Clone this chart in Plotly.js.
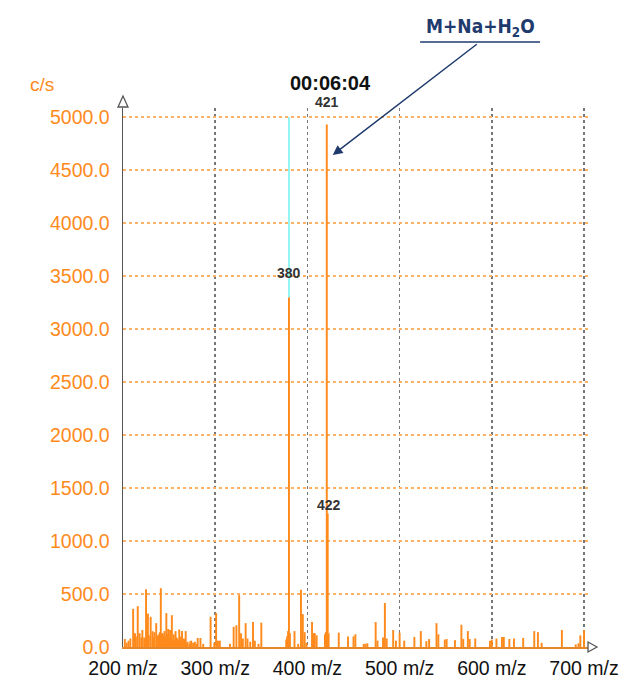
<!DOCTYPE html>
<html>
<head>
<meta charset="utf-8">
<script src="https://cdn.plot.ly/plotly-3.0.1.min.js"></script>
<style>html,body{margin:0;padding:0;background:#fff;}#chart{width:623px;height:679px;}</style>
</head>
<body>
<div id="chart"></div>
<script>
// m/z values and intensities (c/s)
const mz = [202,204,206,208,211,213,214,216,218,220,221,223,224,225,227,228,230,232,233,234,236,237,238,239,240,241,242,243,244,245,246,247,248,249,250,251,252,253,254,255,256,257,258,259,260,261,262,263,264,265,266,267,268,269,270,272,273,274,276,278,280,281,284,287,295,299,301,303,305,316,320,323,326,328,330,333,335,338,341,343,347,350,377,378,379,380,381,386,390,393,395,397,399,405,407,408,410,419,420,421,422,423,434,444,450,452,461,463,465,474,476,482,484,486,493,496,500,505,516,523,529,532,540,542,549,551,560,567,569,574,576,582,598,600,605,611,613,619,624,634,646,650,654,676,691,694,696,700];
const intensity = [75,40,60,80,360,130,100,385,130,90,160,90,70,545,315,110,285,150,90,140,225,100,110,120,140,555,130,130,110,150,100,320,120,170,90,160,80,300,60,120,70,150,90,80,60,165,70,100,150,60,80,70,150,40,50,30,55,60,40,50,30,85,85,30,285,40,320,60,60,30,190,205,490,130,80,225,80,50,235,60,30,230,70,100,150,3300,130,150,30,540,310,140,40,235,130,130,110,120,140,4930,1260,130,135,100,100,120,30,30,35,235,60,90,415,80,160,60,135,60,95,150,55,75,225,120,70,75,65,210,75,150,75,80,60,70,80,95,95,75,80,85,150,140,40,160,25,35,110,160];
// saturated part of the 380 peak (cyan)
const satX = [380];
const satBase = [3300];
const satTop = [5000];
// peak labels
const peakLabelX = [421.3, 380, 423.4];
const peakLabelY = [5142, 3528, 1340];
const peakLabelText = ['421', '380', '422'];
// axis ticks
const xTickVals = [200, 300, 400, 500, 600, 700];
const xTickText = ['200 m/z', '300 m/z', '400 m/z', '500 m/z', '600 m/z', '700 m/z'];
const yTickVals = [0, 500, 1000, 1500, 2000, 2500, 3000, 3500, 4000, 4500, 5000];

const orange = '#ff8a1c';
const navy = '#1f3b6e';
const font = 'Liberation Sans, Arial, sans-serif';
const yMax = 5085;

const traces = [
  {
    type: 'bar', x: mz, y: intensity, width: 2.1,
    marker: {color: orange, line: {width: 0}}, hoverinfo: 'skip'
  },
  {
    type: 'bar', x: satX, y: satTop.map((t, i) => t - satBase[i]), base: satBase, width: 2.1,
    marker: {color: '#8ff5f5', line: {width: 0}}, hoverinfo: 'skip'
  }
];

const annotations = peakLabelX.map((x, i) => ({
  x: x, y: peakLabelY[i] / yMax, xref: 'x', yref: 'paper', text: '<b>' + peakLabelText[i] + '</b>',
  showarrow: false, xanchor: 'center', yanchor: 'middle',
  font: {family: font, size: 14, color: '#333'}
}));
annotations.push(
  {x: 424.5, y: 1.046, xref: 'x', yref: 'paper', text: '<b>00:06:04</b>', showarrow: false,
   xanchor: 'center', yanchor: 'middle', font: {family: font, size: 20, color: '#111'}},
  {x: -0.174, y: 1.043, xref: 'paper', yref: 'paper', text: 'c/s', showarrow: false,
   xanchor: 'center', yanchor: 'middle', font: {family: font, size: 19, color: orange}},
  {x: 0.768, y: 1.150, xref: 'paper', yref: 'paper', text: 'M+Na+H<sub>2</sub>O', showarrow: false,
   xanchor: 'center', yanchor: 'middle',
   font: {family: 'DejaVu Sans Condensed, Liberation Sans Narrow, Liberation Sans, Arial', size: 19, color: navy, weight: 600}},
  {x: 427.5, y: 4642, xref: 'x', yref: 'y', text: ' ', showarrow: true, ax: 147, ay: -113,
   arrowhead: 2, arrowsize: 1.3, arrowwidth: 1.5, arrowcolor: navy}
);

const shapes = [
  {type: 'line', xref: 'paper', yref: 'paper', x0: 0.639, x1: 0.897, y0: 1.1224, y1: 1.1224,
   line: {color: navy, width: 1.5}},
  {type: 'path', xref: 'paper', yref: 'paper',
   path: 'M 0 1.0223 L -0.01075 1.00186 L 0.01075 1.00186 Z',
   fillcolor: '#fff', line: {color: '#555', width: 1.3}},
  {type: 'path', xref: 'paper', yref: 'paper',
   path: 'M 1.01935 0 L 1 0.00928 L 1 -0.00928 Z',
   fillcolor: '#fff', line: {color: '#555', width: 1.3}}
];

const layout = {
  width: 623, height: 679,
  margin: {l: 123, r: 35, t: 108, b: 32, pad: 0},
  paper_bgcolor: '#fff', plot_bgcolor: '#fff',
  showlegend: false, barmode: 'overlay',
  xaxis: {
    range: [200, 704.3], tickvals: xTickVals, ticktext: xTickText,
    showgrid: true, gridcolor: '#777', griddash: 'dot', gridwidth: 1.5,
    zeroline: false, showline: true, linecolor: '#e8862a', linewidth: 2,
    ticks: '', ticklabelstandoff: 3,
    tickfont: {family: font, size: 19.5, color: '#111'}
  },
  yaxis: {
    range: [0, yMax], tickvals: yTickVals, tickformat: '.1f',
    showgrid: true, gridcolor: '#ffb266', griddash: 'dot', gridwidth: 1.5,
    zeroline: false, showline: true, linecolor: '#555', linewidth: 1.5,
    ticks: '', ticklabelstandoff: 8,
    tickfont: {family: font, size: 19.5, color: orange}
  },
  annotations: annotations,
  shapes: shapes
};

Plotly.newPlot('chart', traces, layout, {displayModeBar: false, staticPlot: true});
</script>
</body>
</html>
